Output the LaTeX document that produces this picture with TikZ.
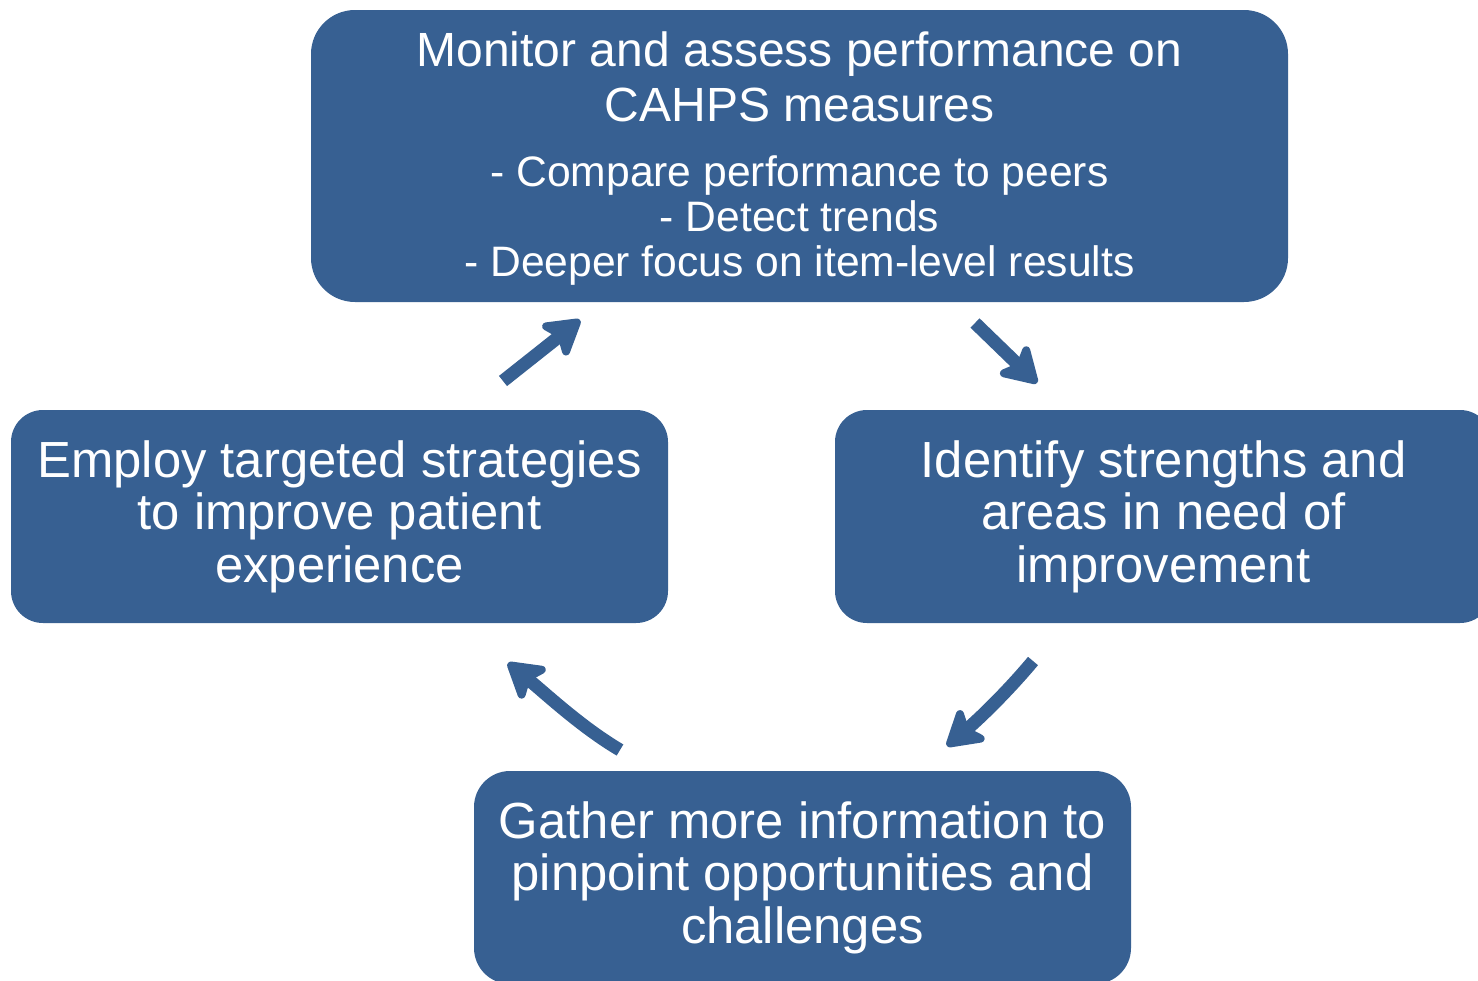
\documentclass[tikz,border=0pt]{standalone}
\usepackage{fontspec}
\setmainfont{Liberation Sans}
\usetikzlibrary{arrows.meta}
\definecolor{boxblue}{RGB}{55,96,146}
\begin{document}
\begin{tikzpicture}[x=0.5pt,y=-0.5pt,
  stage/.style={fill=boxblue, draw=none, rounded corners=16pt, text=white,
    align=center, inner sep=0pt, minimum width=328.5pt, minimum height=106.5pt,
    font=\fontsize{25.4}{26.3}\selectfont},
  flow/.style={draw=boxblue, line width=6.5pt,
    -{Stealth[length=21pt,width=25pt,inset=5pt,round,line width=4.5pt]}}]
\useasboundingbox (0,0) rectangle (1478,980);
\clip (0,0) rectangle (1478,980);

% the four stages of the cycle
\node[stage, rounded corners=22pt, minimum width=488.5pt, minimum height=146pt,
      text width=480pt] (monitor) at (799.5,156)
  {\centering\spaceskip=0pt\xspaceskip=0pt
   \fontsize{24}{25}\selectfont Monitor and assess performance on\\[2.5pt]
   CAHPS measures\\[10pt]
   \fontsize{21.3}{22.5}\selectfont - Compare performance to peers\\
   - Detect trends\\
   - Deeper focus on item-level results\par\vspace{-3pt}};
\node[stage] (identify) at (1163.5,516.5)
  {Identify strengths and\\areas in need of\\improvement};
\node[stage, rounded corners=18pt] (gather) at (802.5,877.5)
  {Gather more information to\\pinpoint opportunities and\\challenges};
\node[stage] (employ) at (339.5,516.5)
  {Employ targeted strategies\\to improve patient\\experience};

% arrow end points between the stages
\coordinate (employ-out) at (503,381);
\coordinate (monitor-in) at (580,320);
\coordinate (monitor-out) at (975,323);
\coordinate (identify-in) at (1037,383);
\coordinate (identify-out) at (1033,661);
\coordinate (gather-in) at (947,746);
\coordinate (gather-out) at (620,750);
\coordinate (employ-in) at (508,663);

\draw[flow] (employ-out) -- (monitor-in);
\draw[flow] (monitor-out) -- (identify-in);
\draw[flow] (identify-out) .. controls (1008,691) and (979,719) .. (gather-in);
\draw[flow] (gather-out) .. controls (581,727) and (545,693) .. (employ-in);
\end{tikzpicture}
\end{document}
